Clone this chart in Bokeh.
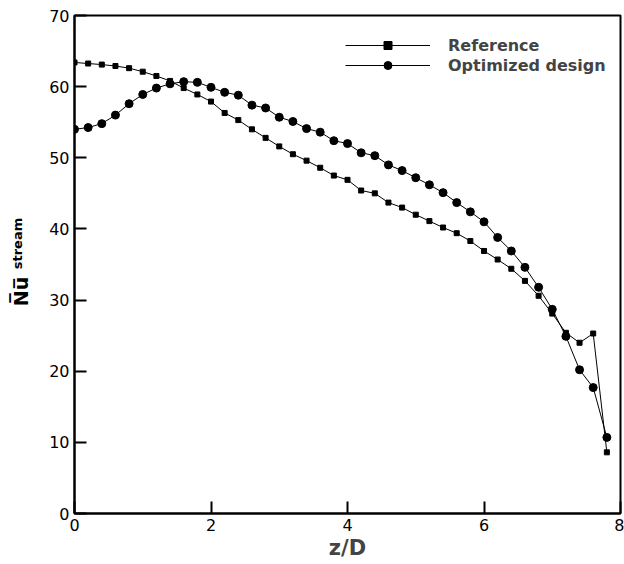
from bokeh.plotting import figure
from bokeh.models import Label, Legend, LegendItem, Range1d
from bokeh.embed import file_html
from bokeh.resources import INLINE

# ---- data ----
z_over_d = [0.0, 0.2, 0.4, 0.6, 0.8, 1.0, 1.2, 1.4, 1.6, 1.8,
            2.0, 2.2, 2.4, 2.6, 2.8, 3.0, 3.2, 3.4, 3.6, 3.8,
            4.0, 4.2, 4.4, 4.6, 4.8, 5.0, 5.2, 5.4, 5.6, 5.8,
            6.0, 6.2, 6.4, 6.6, 6.8, 7.0, 7.2, 7.4, 7.6, 7.8]
reference = [63.4, 63.25, 63.1, 62.9, 62.6, 62.1, 61.5, 60.8, 59.8, 58.9,
             57.9, 56.3, 55.3, 54.0, 52.8, 51.6, 50.5, 49.6, 48.6, 47.5,
             46.9, 45.4, 45.0, 43.7, 43.0, 42.0, 41.1, 40.2, 39.4, 38.3,
             36.9, 35.7, 34.4, 32.7, 30.6, 28.1, 25.4, 24.0, 25.3, 8.6]
optimized = [54.0, 54.25, 54.8, 56.0, 57.6, 58.9, 59.8, 60.4, 60.7, 60.6,
             59.9, 59.2, 58.8, 57.4, 57.0, 55.7, 55.1, 54.1, 53.6, 52.4,
             52.0, 50.7, 50.3, 49.0, 48.2, 47.2, 46.2, 45.1, 43.7, 42.4,
             41.0, 38.8, 36.9, 34.6, 31.8, 28.7, 24.9, 20.2, 17.7, 10.7]
series_names = ["Reference", "Optimized design"]
x_ticks = [0, 2, 4, 6, 8]
y_ticks = [0, 10, 20, 30, 40, 50, 60, 70]

FONT = "DejaVu Sans"

p = figure(frame_width=546, frame_height=498,
           min_border_left=74, min_border_right=4,
           min_border_top=15, min_border_bottom=40,
           x_range=Range1d(0, 8), y_range=Range1d(0, 70),
           output_backend="svg", toolbar_location=None)

p.background_fill_color = "white"
p.border_fill_color = "white"
p.outline_line_color = "black"
p.outline_line_width = 2
p.xgrid.visible = False
p.ygrid.visible = False

for ax in (p.xaxis[0], p.yaxis[0]):
    ax.axis_line_width = 2
    ax.axis_line_color = "black"
    ax.major_tick_in = 12
    ax.major_tick_out = 0
    ax.minor_tick_in = 7
    ax.minor_tick_out = 0
    ax.major_tick_line_width = 2
    ax.minor_tick_line_width = 1
    ax.major_label_text_font = FONT
    ax.major_label_text_font_size = "16px"
    ax.major_label_text_color = "black"
    ax.major_label_standoff = 5

p.xaxis.ticker = x_ticks
p.xaxis.ticker.num_minor_ticks = 5
p.yaxis.ticker = y_ticks
p.yaxis.ticker.num_minor_ticks = 5
p.xaxis.axis_label = "z/D"
p.xaxis.axis_label_text_font = FONT
p.xaxis.axis_label_text_font_style = "bold"
p.xaxis.axis_label_text_font_size = "21px"
p.xaxis.axis_label_standoff = 2

l1 = p.line(z_over_d, reference, line_color="black", line_width=1)
s1 = p.scatter(z_over_d, reference, marker="square", size=5,
               fill_color="black", line_color="black")
l2 = p.line(z_over_d, optimized, line_color="black", line_width=1)
s2 = p.scatter(z_over_d, optimized, marker="circle", size=8,
               fill_color="black", line_color="black")

legend = Legend(items=[LegendItem(label=series_names[0], renderers=[l1, s1]),
                       LegendItem(label=series_names[1], renderers=[l2, s2])],
                location=(271, 438), orientation="vertical",
                glyph_width=85, glyph_height=20, label_height=20,
                label_standoff=18, spacing=0, padding=0, margin=0,
                border_line_color=None, background_fill_alpha=0,
                label_text_font=FONT, label_text_font_style="bold",
                label_text_font_size="16px", label_text_baseline="middle")
p.add_layout(legend, "center")

# y axis label: overlined Nu with "stream" (placed in the left side panel)
p.add_layout(Label(x=-4, y=222, x_units="screen", y_units="screen",
                   text="N\u0305u\u0305", angle=90, angle_units="deg",
                   text_font=FONT, text_font_style="bold", text_font_size="19px",
                   text_align="center", text_baseline="middle", text_color="black"), "left")
p.add_layout(Label(x=8, y=270, x_units="screen", y_units="screen",
                   text="stream", angle=90, angle_units="deg",
                   text_font=FONT, text_font_style="bold", text_font_size="13px",
                   text_align="center", text_baseline="middle", text_color="black"), "left")

open("out.html", "w").write(file_html(p, INLINE))
